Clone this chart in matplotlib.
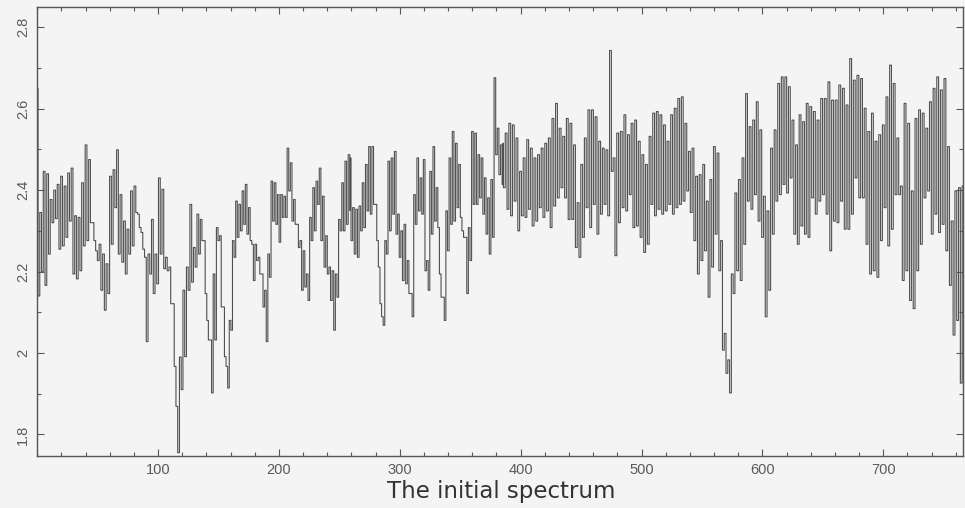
import matplotlib
matplotlib.use("Agg")
from matplotlib import pyplot as plt
from matplotlib.ticker import MultipleLocator
import numpy as np

# channel span covered by each block of readings
spans = [(0, 130), (133, 258), (259, 384), (385, 513), (516, 640), (643, 766)]

# local maxima of the flux, one per ~3 channels
peaks = [
    [2.65, 2.345, 2.446, 2.44, 2.377, 2.40, 2.414, 2.434, 2.410, 2.442, 2.454, 2.337,
     2.333, 2.418, 2.511, 2.475, 2.320, 2.251, 2.267, 2.243, 2.219, 2.434, 2.450, 2.499,
     2.389, 2.324, 2.304, 2.398, 2.410, 2.341, 2.296, 2.235, 2.243, 2.328, 2.243, 2.430,
     2.402, 2.235, 2.211, 2.121, 1.869, 1.990, 2.154, 2.211, 2.365, 2.259],
    [2.341, 2.328, 2.276, 2.080, 2.032, 2.194, 2.308, 2.288, 2.113, 1.967, 2.080, 2.276,
     2.373, 2.365, 2.398, 2.414, 2.357, 2.267, 2.267, 2.235, 2.194, 2.154, 2.243, 2.422,
     2.418, 2.389, 2.389, 2.385, 2.503, 2.467, 2.377, 2.316, 2.276, 2.251, 2.194, 2.333,
     2.406, 2.422, 2.454, 2.385, 2.288, 2.211, 2.202, 2.194, 2.328, 2.418, 2.471, 2.487],
    [2.479, 2.357, 2.353, 2.361, 2.418, 2.463, 2.507, 2.507, 2.365, 2.211, 2.089, 2.276,
     2.471, 2.479, 2.495, 2.341, 2.300, 2.316, 2.227, 2.146, 2.389, 2.479, 2.430, 2.475,
     2.227, 2.446, 2.507, 2.406, 2.194, 2.137, 2.349, 2.479, 2.544, 2.515, 2.463, 2.300,
     2.284, 2.308, 2.544, 2.540, 2.487, 2.479, 2.430, 2.381, 2.426, 2.676, 2.552, 2.511],
    [2.515, 2.540, 2.564, 2.560, 2.528, 2.446, 2.479, 2.524, 2.503, 2.479, 2.487, 2.503,
     2.515, 2.528, 2.576, 2.613, 2.552, 2.532, 2.576, 2.564, 2.511, 2.369, 2.463, 2.528,
     2.597, 2.597, 2.580, 2.520, 2.503, 2.499, 2.743, 2.479, 2.540, 2.544, 2.585, 2.536,
     2.564, 2.572, 2.520, 2.487, 2.463, 2.532, 2.589, 2.593],
    [2.585, 2.560, 2.520, 2.585, 2.601, 2.625, 2.629, 2.564, 2.495, 2.503, 2.434, 2.438,
     2.463, 2.373, 2.426, 2.507, 2.491, 2.276, 2.048, 1.983, 2.194, 2.393, 2.426, 2.479,
     2.637, 2.556, 2.572, 2.617, 2.548, 2.385, 2.349, 2.503, 2.548, 2.662, 2.678, 2.678,
     2.654, 2.572, 2.511, 2.585, 2.568, 2.613, 2.605],
    [2.593, 2.572, 2.625, 2.625, 2.666, 2.621, 2.621, 2.658, 2.650, 2.609, 2.723, 2.670,
     2.682, 2.674, 2.601, 2.544, 2.589, 2.520, 2.536, 2.560, 2.629, 2.707, 2.662, 2.528,
     2.410, 2.613, 2.564, 2.398, 2.576, 2.597, 2.589, 2.552, 2.617, 2.650, 2.678, 2.646,
     2.674, 2.507, 2.324, 2.398, 2.406, 2.41],
]

# local minima following each maximum
troughs = [
    [2.14, 2.20, 2.166, 2.243, 2.320, 2.33, 2.255, 2.263, 2.284, 2.324, 2.194, 2.182,
     2.202, 2.263, 2.276, 2.320, 2.276, 2.227, 2.154, 2.105, 2.146, 2.267, 2.357, 2.243,
     2.223, 2.194, 2.243, 2.263, 2.345, 2.308, 2.255, 2.028, 2.194, 2.146, 2.170, 2.243,
     2.207, 2.202, 2.121, 1.967, 1.755, 1.910, 1.991, 2.154, 2.174, 2.211],
    [2.243, 2.276, 2.146, 2.032, 1.902, 2.032, 2.276, 2.113, 1.991, 1.914, 2.056, 2.235,
     2.284, 2.300, 2.316, 2.292, 2.276, 2.178, 2.227, 2.194, 2.113, 2.028, 2.186, 2.324,
     2.316, 2.272, 2.333, 2.333, 2.398, 2.324, 2.316, 2.259, 2.154, 2.162, 2.129, 2.276,
     2.300, 2.365, 2.276, 2.211, 2.194, 2.129, 2.056, 2.137, 2.300, 2.300, 2.316, 2.35],
    [2.276, 2.243, 2.235, 2.300, 2.308, 2.349, 2.341, 2.365, 2.276, 2.121, 2.068, 2.243,
     2.300, 2.341, 2.292, 2.235, 2.178, 2.170, 2.146, 2.089, 2.316, 2.349, 2.341, 2.202,
     2.154, 2.292, 2.324, 2.308, 2.137, 2.080, 2.251, 2.316, 2.324, 2.357, 2.333, 2.284,
     2.146, 2.227, 2.365, 2.365, 2.381, 2.341, 2.292, 2.243, 2.284, 2.487, 2.438, 2.414],
    [2.406, 2.353, 2.337, 2.373, 2.300, 2.337, 2.333, 2.353, 2.312, 2.324, 2.357, 2.333,
     2.349, 2.308, 2.361, 2.381, 2.406, 2.381, 2.328, 2.328, 2.259, 2.235, 2.284, 2.357,
     2.308, 2.365, 2.292, 2.341, 2.365, 2.337, 2.446, 2.239, 2.320, 2.357, 2.349, 2.389,
     2.308, 2.312, 2.284, 2.247, 2.267, 2.365, 2.337, 2.353],
    [2.341, 2.349, 2.365, 2.341, 2.357, 2.365, 2.373, 2.398, 2.345, 2.276, 2.194, 2.227,
     2.251, 2.137, 2.211, 2.292, 2.202, 2.007, 1.950, 1.902, 2.146, 2.202, 2.178, 2.267,
     2.373, 2.353, 2.389, 2.324, 2.284, 2.089, 2.154, 2.292, 2.373, 2.389, 2.414, 2.393,
     2.430, 2.292, 2.267, 2.312, 2.292, 2.284, 2.381],
    [2.341, 2.373, 2.389, 2.341, 2.251, 2.324, 2.320, 2.373, 2.304, 2.304, 2.341, 2.430,
     2.381, 2.381, 2.267, 2.194, 2.202, 2.186, 2.276, 2.357, 2.263, 2.304, 2.389, 2.389,
     2.178, 2.202, 2.129, 2.109, 2.202, 2.267, 2.381, 2.398, 2.292, 2.341, 2.296, 2.316,
     2.251, 2.166, 2.044, 2.080, 1.926, 2.10],
]

channel = []
flux = []
for (start, end), hi, lo in zip(spans, peaks, troughs):
    c = np.linspace(start, end, len(hi))
    w = (end - start) / (len(hi) - 1)
    for ci, h, l in zip(c, hi, lo):
        channel += [ci, ci + w / 2]
        flux += [h, l]

bg = "#f4f4f4"
fig = plt.figure(figsize=(9.65, 5.08), dpi=100, facecolor=bg)
ax = fig.add_axes([0.0385, 0.1024, 0.9595, 0.884], facecolor=bg)

ax.plot(channel, flux, drawstyle="steps-mid", color="#505050", lw=0.8)

ax.set_xlim(0, 766)
ax.set_ylim(1.747, 2.85)
ax.xaxis.set_minor_locator(MultipleLocator(20))
ax.yaxis.set_minor_locator(MultipleLocator(0.1))
ax.set_xticks([100, 200, 300, 400, 500, 600, 700])
ax.set_yticks([1.8, 2.0, 2.2, 2.4, 2.6, 2.8])
ax.set_yticklabels(["1.8", "2", "2.2", "2.4", "2.6", "2.8"], rotation=90, va="center")
ax.tick_params(which="both", direction="in", top=True, right=True,
               colors="#5a5a5a", labelsize=10.5, width=0.8)
ax.tick_params(which="major", length=5, pad=5)
ax.tick_params(which="minor", length=3)
for lab in ax.get_xticklabels() + ax.get_yticklabels():
    lab.set_family("Liberation Sans")
for s in ax.spines.values():
    s.set_color("#555555")
    s.set_linewidth(1.0)

fig.text(0.519, 0.02, "The initial spectrum", ha="center", va="baseline",
         fontsize=16.5, color="#333333")

fig.savefig("out.png", dpi=100, facecolor=bg)
